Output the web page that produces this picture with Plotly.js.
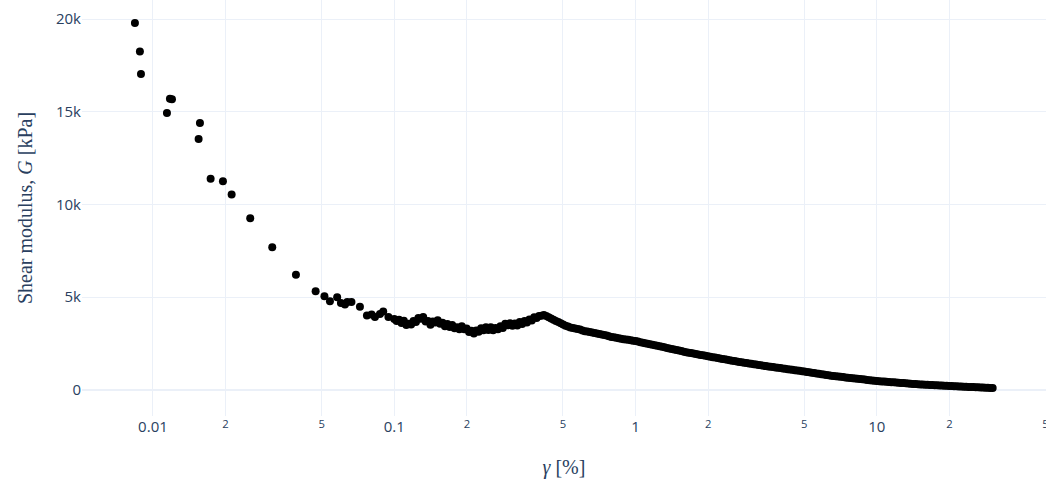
<!DOCTYPE html>
<html>
<head>
<meta charset="utf-8">
<script src="https://cdn.plot.ly/plotly-3.0.1.min.js"></script>
<style>html,body{margin:0;padding:0;background:#fff;}#chart{width:1046px;height:479px;}</style>
</head>
<body>
<div id="chart"></div>
<script>
// Shear strain gamma [%] and shear modulus G [kPa]
const strainLow = [0.00842,0.00883,0.00892,0.01143,0.01176,0.01199,0.01546,0.01566,0.01734,0.01950,0.02119,0.02530,0.03122,0.03914,0.04723,0.05137,0.05414,0.05800,0.06013,0.06247,0.06385,0.06646,0.07208,0.07706,0.08057,0.08318,0.08725,0.09002,0.09462];
const modulusLow = [19790,18245,17029,14930,15699,15680,13530,14391,11394,11248,10533,9257,7696,6211,5328,5054,4785,5000,4693,4612,4747,4747,4489,4020,4074,3940,4090,4225,3929];

const strainMid = [0.1000,0.1023,0.1047,0.1072,0.1096,0.1122,0.1148,0.1175,0.1202,0.1230,0.1259,0.1288,0.1318,0.1349,0.1380,0.1413,0.1445,0.1479,0.1514,0.1549,0.1585,0.1622,0.1660,0.1698,0.1738,0.1778,0.1820,0.1862,0.1905,0.1950,0.1995,0.2042,0.2089,0.2138,0.2188,0.2239,0.2291,0.2344,0.2399,0.2455,0.2512,0.2570,0.2630,0.2692,0.2754,0.2818,0.2884,0.2951,0.3020,0.3090,0.3162,0.3236,0.3311,0.3388,0.3467,0.3548,0.3631,0.3715,0.3802,0.3890,0.3981,0.4074,0.4169,0.4266,0.4365,0.4467,0.4571,0.4677,0.4786,0.4898,0.5012,0.5129,0.5248,0.5370,0.5495,0.5623,0.5754,0.5888,0.6026,0.6166,0.6310];
const modulusMid = [3831,3713,3780,3607,3733,3501,3569,3526,3717,3667,3886,3840,3933,3687,3715,3521,3690,3642,3763,3569,3631,3436,3551,3399,3508,3331,3388,3279,3442,3269,3316,3133,3190,3043,3208,3141,3335,3218,3381,3231,3388,3217,3348,3273,3431,3344,3568,3491,3604,3465,3587,3473,3663,3554,3720,3644,3804,3750,3920,3878,3991,4004,4037,3983,3924,3859,3789,3724,3660,3595,3531,3466,3418,3375,3337,3321,3294,3256,3213,3170,3154];

const strainHigh = [0.661,0.692,0.724,0.759,0.794,0.832,0.871,0.912,0.955,1.0,1.047,1.096,1.148,1.202,1.259,1.318,1.380,1.445,1.514,1.585,1.660,1.738,1.820,1.905,1.995,2.089,2.188,2.291,2.399,2.512,2.630,2.754,2.884,3.020,3.162,3.311,3.467,3.631,3.802,3.981,4.169,4.365,4.571,4.786,5.012,5.248,5.495,5.754,6.026,6.310,6.607,6.918,7.244,7.586,7.943,8.318,8.710,9.120,9.550,10.0,10.47,10.96,11.48,12.02,12.59,13.18,13.80,14.45,15.14,15.85,16.60,17.38,18.20,19.05,19.95,20.89,21.88,22.91,23.99,25.12,26.30,27.54,28.84,30.20];
const modulusHigh = [3095,3041,2992,2933,2858,2815,2761,2723,2680,2637,2578,2524,2465,2411,2352,2298,2239,2185,2126,2067,2013,1964,1916,1868,1814,1771,1722,1674,1631,1582,1534,1496,1453,1415,1372,1329,1292,1254,1216,1179,1141,1103,1071,1033,996,953,910,872,834,791,753,721,694,662,635,603,576,544,517,484,463,441,420,404,382,361,339,318,301,285,274,258,248,231,215,205,194,178,167,156,145,129,118,108];

const strainHigh2 = [0.6457,0.6761,0.7079,0.7413,0.7762,0.8128,0.8511,0.8913,0.9333,0.9772,1.023,1.072,1.122,1.175,1.230,1.288,1.349,1.413,1.479,1.549,1.622,1.698,1.778,1.862,1.950,2.042,2.138,2.239,2.344,2.455,2.570,2.692,2.818,2.951,3.090,3.236,3.388,3.548,3.715,3.890,4.074,4.266,4.467,4.677,4.898,5.129,5.370,5.623,5.888,6.166,6.457,6.761,7.079,7.413,7.762,8.128,8.511,8.913,9.333,9.772,10.23,10.72,11.22,11.75,12.30,12.88,13.49,14.13,14.79,15.49,16.22,16.98,17.78,18.62,19.50,20.42,21.38,22.39,23.44,24.55,25.70,26.92,28.18,29.51];
const modulusHigh2 = [3125,3068,3017,2963,2896,2837,2788,2742,2702,2659,2608,2551,2495,2438,2382,2325,2269,2212,2156,2097,2040,1989,1940,1892,1841,1793,1747,1698,1653,1607,1558,1515,1475,1434,1394,1351,1311,1273,1235,1198,1160,1122,1087,1052,1015,975,932,891,853,813,772,737,708,678,649,619,590,560,531,501,474,452,431,412,393,372,350,329,310,293,280,266,253,240,223,210,200,186,173,162,151,137,124,113];

const xTitle = '<i>γ</i> [%]';
const yTitle = 'Shear modulus, <i>G</i> [kPa]';

const strain = strainLow.concat(strainMid, strainHigh, strainHigh2);
const modulus = modulusLow.concat(modulusMid, modulusHigh, modulusHigh2);

const grid = '#EBF0F8';
const txt = '#2a3f5f';
const serif = '"Liberation Serif", "DejaVu Serif", serif';

Plotly.newPlot('chart', [{
  type: 'scatter',
  mode: 'markers',
  x: strain,
  y: modulus,
  marker: {color: '#000000', size: 8},
  showlegend: false,
  hoverinfo: 'x+y'
}], {
  width: 1046,
  height: 479,
  margin: {l: 82, r: 0, t: 0, b: 63, pad: 0},
  paper_bgcolor: '#ffffff',
  plot_bgcolor: '#ffffff',
  font: {family: '"Open Sans", verdana, arial, sans-serif', size: 15, color: txt},
  xaxis: {
    type: 'log',
    range: [-2.294, 1.701],
    dtick: 'D2',
    gridcolor: grid,
    zeroline: false,
    showline: false,
    ticks: '',
    ticklabeloverflow: 'allow',
    title: {text: xTitle, font: {family: serif, size: 20, color: txt}}
  },
  yaxis: {
    range: [-1402, 21024],
    dtick: 5000,
    gridcolor: grid,
    zeroline: true,
    zerolinecolor: grid,
    zerolinewidth: 2,
    showline: false,
    ticks: '',
    title: {text: yTitle, font: {family: serif, size: 20, color: txt}}
  }
}, {displayModeBar: false, staticPlot: true});
</script>
</body>
</html>
